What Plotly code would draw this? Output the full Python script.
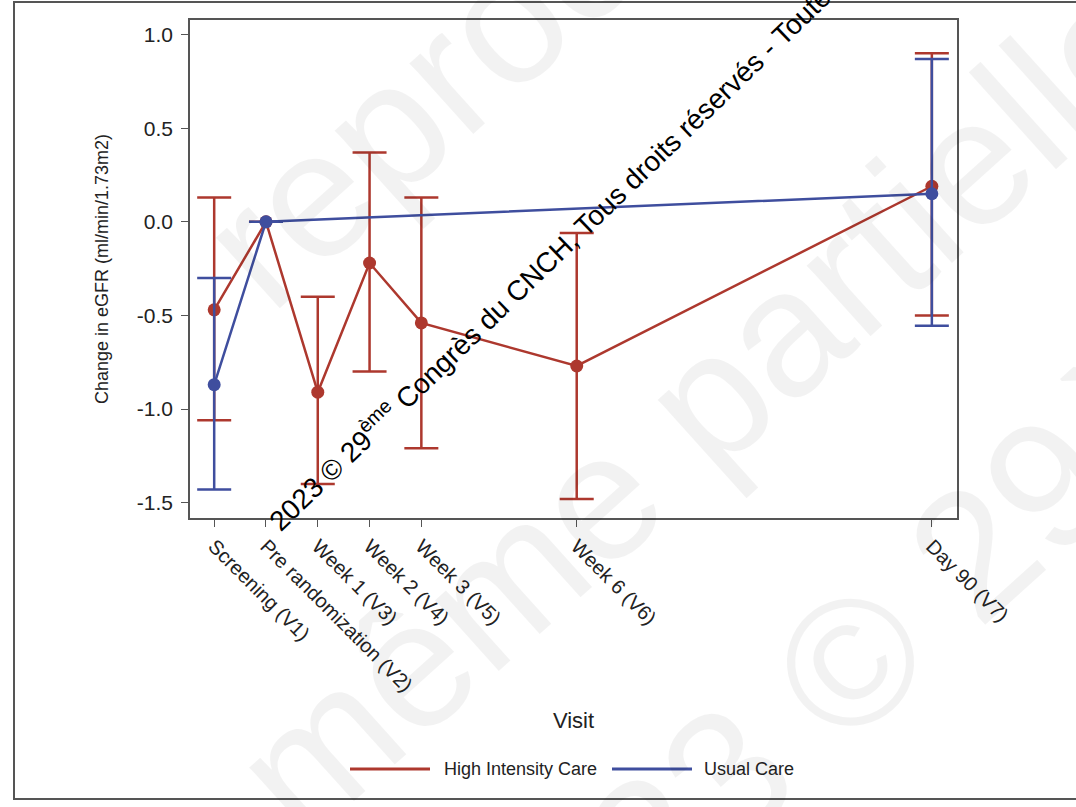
import plotly.graph_objects as go

# ---- data ----
visits = ["Screening (V1)", "Pre randomization (V2)", "Week 1 (V3)", "Week 2 (V4)",
          "Week 3 (V5)", "Week 6 (V6)", "Day 90 (V7)"]
visit_day = [-7, 0, 7, 14, 21, 42, 90]

series_names = ["High Intensity Care", "Usual Care"]

hic_day = [-7, 0, 7, 14, 21, 42, 90]
hic_mean = [-0.47, 0.0, -0.91, -0.22, -0.54, -0.77, 0.19]
hic_lower = [-1.06, 0.0, -1.40, -0.80, -1.21, -1.48, -0.50]
hic_upper = [0.13, 0.0, -0.40, 0.37, 0.13, -0.06, 0.90]

uc_day = [-7, 0, 90]
uc_mean = [-0.87, 0.0, 0.15]
uc_lower = [-1.43, 0.0, -0.555]
uc_upper = [-0.30, 0.0, 0.87]

RED = "#AD382E"
BLUE = "#3F4E9E"
FONT = "Arial, Liberation Sans, sans-serif"

W, H = 1076, 807
L, R, T, B = 190, 119, 20, 289
PW, PH = W - L - R, H - T - B


def px(x):
    return (x - L) / PW


def py(y):
    return (H - B - y) / PH


fig = go.Figure()


def add_series(x, m, lo, hi, color, name):
    fig.add_trace(go.Scatter(
        x=x, y=m, mode="lines+markers", name=name, showlegend=False,
        line=dict(color=color, width=2.5),
        marker=dict(color=color, size=13),
        error_y=dict(type="data", symmetric=False,
                     array=[h - v for h, v in zip(hi, m)],
                     arrayminus=[v - l for l, v in zip(lo, m)],
                     color=color, thickness=2.5, width=17),
    ))


add_series(hic_day, hic_mean, hic_lower, hic_upper, RED, series_names[0])
add_series(uc_day, uc_mean, uc_lower, uc_upper, BLUE, series_names[1])

axis_common = dict(showline=True, linecolor="#555555", linewidth=1.5, mirror=True,
                   ticks="outside", ticklen=7, tickcolor="#555555", tickwidth=1.2,
                   showgrid=False, zeroline=False)

fig.update_xaxes(range=[-10.27, 93.4], tickmode="array", tickvals=visit_day, ticktext=visits,
                 tickangle=45, tickfont=dict(family=FONT, size=20, color="#222222"),
                 title=dict(text="Visit", font=dict(family=FONT, size=22, color="#222222"), standoff=18),
                 **axis_common)
fig.update_yaxes(range=[-1.582, 1.078], tickvals=[-1.5, -1.0, -0.5, 0.0, 0.5, 1.0],
                 ticktext=["-1.5", "-1.0", "-0.5", "0.0", "0.5", "1.0"],
                 tickfont=dict(family=FONT, size=21, color="#222222"), ticklabelstandoff=4,
                 title=dict(text="Change in eGFR (ml/min/1.73m2)",
                            font=dict(family=FONT, size=18, color="#222222"), standoff=24),
                 **axis_common)

shapes = [
    # outer frame
    dict(type="rect", xref="paper", yref="paper", x0=px(14), x1=px(1090), y0=py(799), y1=py(2),
         line=dict(color="#555555", width=2), fillcolor="rgba(0,0,0,0)", layer="below"),
    # legend lines
    dict(type="line", xref="paper", yref="paper", x0=px(350), x1=px(430), y0=py(769), y1=py(769),
         line=dict(color=RED, width=3)),
    dict(type="line", xref="paper", yref="paper", x0=px(612), x1=px(692), y0=py(769), y1=py(769),
         line=dict(color=BLUE, width=3)),
]

annotations = [
    dict(text=series_names[0], x=px(442), y=py(769), xref="paper", yref="paper",
         xanchor="left", yanchor="middle", showarrow=False,
         font=dict(family=FONT, size=18, color="#222222")),
    dict(text=series_names[1], x=px(702), y=py(769), xref="paper", yref="paper",
         xanchor="left", yanchor="middle", showarrow=False,
         font=dict(family=FONT, size=18, color="#222222")),
]

# faint large watermark
faint = "rgba(0,0,0,0.05)"
for txt, cx, cy in [("reproduction", 600, -65), ("même partielle", 700, 405), ("2023 © 29ème", 905, 612)]:
    annotations.append(dict(text=txt, x=px(cx), y=py(cy), xref="paper", yref="paper",
                            xanchor="center", yanchor="middle", showarrow=False, textangle=-42,
                            font=dict(family=FONT, size=180, color=faint)))

# black watermark line
annotations.append(dict(
    text="2023 © 29<sup>ème</sup> Congrès du CNCH, Tous droits réservés - Toute",
    x=px(548), y=py(258), xref="paper", yref="paper", xanchor="center", yanchor="middle",
    showarrow=False, textangle=-44, font=dict(family=FONT, size=28, color="#000000")))

fig.update_layout(
    width=W, height=H, margin=dict(l=L, r=R, t=T, b=B),
    paper_bgcolor="white", plot_bgcolor="white",
    showlegend=False, shapes=shapes, annotations=annotations,
)

fig.write_html("out.html", config={"displayModeBar": False},
               post_script="document.body.style.margin='0';document.body.style.overflow='hidden';")
